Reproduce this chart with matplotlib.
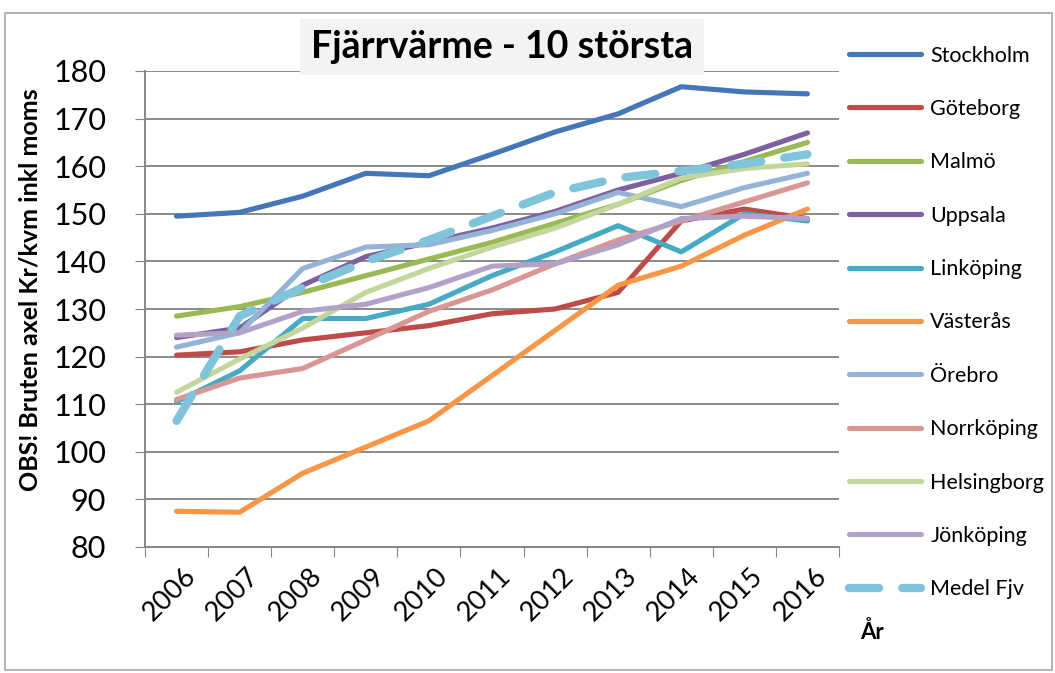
import numpy as np
import matplotlib
matplotlib.use('Agg')
import matplotlib.pyplot as plt
import matplotlib.transforms as mtransforms
from matplotlib.patches import Rectangle

# Values (Kr/kvm inkl moms)
years = ['2006', '2007', '2008', '2009', '2010', '2011', '2012', '2013', '2014', '2015', '2016']

stockholm = [149.5, 150.3, 153.7, 158.5, 158.0, 162.5, 167.2, 171.0, 176.7, 175.6, 175.2]
goteborg = [120.3, 121.0, 123.5, 125.0, 126.5, 129.0, 130.0, 133.5, 148.5, 151.0, 149.0]
malmo = [128.5, 130.5, 133.5, 137.0, 140.5, 144.0, 148.0, 152.0, 157.0, 161.0, 165.0]
uppsala = [124.0, 126.0, 135.0, 141.0, 144.0, 147.0, 150.5, 155.0, 158.5, 162.5, 167.0]
linkoping = [110.5, 117.0, 128.0, 128.0, 131.0, 137.0, 142.0, 147.5, 142.0, 150.0, 148.5]
vasteras = [87.5, 87.3, 95.5, 101.0, 106.5, 116.0, 125.5, 135.0, 139.0, 145.5, 151.0]
orebro = [122.0, 125.0, 138.5, 143.0, 143.5, 146.5, 150.0, 154.5, 151.5, 155.5, 158.5]
norrkoping = [111.0, 115.5, 117.5, 123.5, 129.5, 134.0, 139.5, 144.5, 148.5, 152.5, 156.5]
helsingborg = [112.5, 119.5, 126.0, 133.5, 138.5, 143.0, 147.0, 152.0, 157.5, 159.5, 160.5]
jonkoping = [124.5, 125.0, 129.5, 131.0, 134.5, 139.0, 139.5, 143.5, 149.0, 149.5, 149.0]
medel_fjv = [106.5, 128.5, 134.5, 140.0, 144.5, 149.5, 154.5, 157.5, 159.0, 160.5, 162.5]

series = [
    ('Stockholm', stockholm, '#4576B8'),
    ('Göteborg', goteborg, '#BE4B48'),
    ('Malmö', malmo, '#98B954'),
    ('Uppsala', uppsala, '#7D60A0'),
    ('Linköping', linkoping, '#46AAC5'),
    ('Västerås', vasteras, '#F79646'),
    ('Örebro', orebro, '#95B3D7'),
    ('Norrköping', norrkoping, '#D99694'),
    ('Helsingborg', helsingborg, '#C3D69B'),
    ('Jönköping', jonkoping, '#B3A2C7'),
]

plt.rcParams['font.family'] = ['Lato', 'DejaVu Sans']

W, H = 1055, 673
fig = plt.figure(figsize=(W / 100, H / 100), dpi=100)
fig.patch.set_facecolor('white')

ax = fig.add_axes([145 / W, 126 / H, 694 / W, 476 / H])
x = np.arange(len(years))

for name, vals, color in series:
    ax.plot(x, vals, color=color, lw=3.7, label=name,
            solid_capstyle='round', solid_joinstyle='round')
ax.plot(x, medel_fjv, color='#7FC4DB', lw=6, ls=(0, (3.6, 2.8)),
        dash_capstyle='round', dash_joinstyle='round', label='Medel Fjv')

ax.set_xlim(-0.5, len(years) - 0.5)
ax.set_ylim(80, 180)
ax.set_yticks(np.arange(80, 181, 10))

# tick marks on category boundaries, year labels drawn in the middle
ax.set_xticks(np.arange(-0.5, len(years), 1))
ax.set_xticklabels([])
offset = mtransforms.ScaledTranslation(15 / 100, -25 / 100, fig.dpi_scale_trans)
for i, yr in zip(x, years):
    ax.text(i, 0, yr, transform=ax.get_xaxis_transform() + offset,
            rotation=45, rotation_mode='anchor', ha='right', va='center',
            fontsize=19.5)

ax.tick_params(axis='x', which='major', length=7, color='#868686', direction='out')
ax.tick_params(axis='y', length=7, color='#868686', labelsize=22, pad=21)

ax.grid(axis='y', color='#8A8A8A', lw=1.4)
ax.set_axisbelow(True)
for side in ['top', 'right']:
    ax.spines[side].set_visible(False)
for side in ['left', 'bottom']:
    ax.spines[side].set_color('#868686')
    ax.spines[side].set_linewidth(1.4)

fig.text(502 / W, 1 - 47 / H, 'Fjärrvärme - 10 största', ha='center', va='center',
         fontsize=27, fontweight='bold',
         bbox=dict(boxstyle='square,pad=0.3', fc='#F3F3F3', ec='none'))

fig.text(30 / W, 1 - 290 / H, 'OBS! Bruten axel Kr/kvm inkl moms', rotation=90,
         ha='center', va='center', fontsize=18, fontweight='bold')

fig.text(872 / W, 1 - 632 / H, 'År', ha='center', va='center',
         fontsize=16, fontweight='bold')

fig.legend(loc='upper left', bbox_to_anchor=(840 / W, 1 - 37 / H), frameon=False,
           fontsize=15.5, handlelength=3.35, labelspacing=1.55, handletextpad=0.45,
           borderaxespad=0)

fig.add_artist(Rectangle((5 / W, 3 / H), 1047 / W, 657 / H, transform=fig.transFigure,
                         fill=False, ec='#A6A6A6', lw=1.2))

fig.savefig('out.png', dpi=100)
